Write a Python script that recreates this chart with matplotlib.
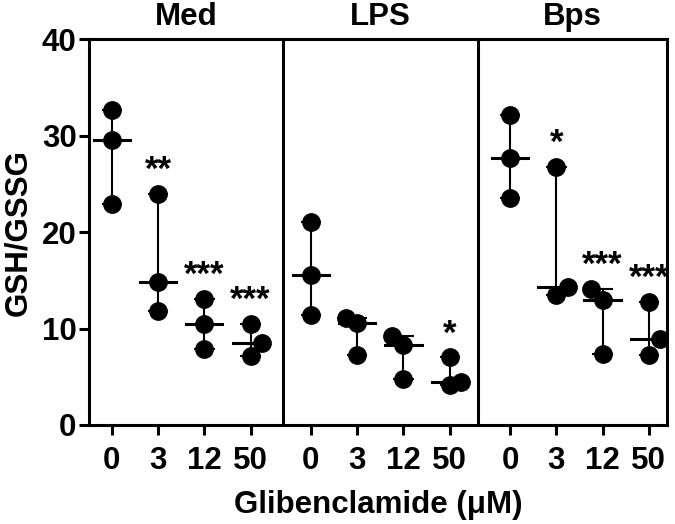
import numpy as np
import matplotlib.pyplot as plt

plt.rcParams['font.family'] = ['Liberation Sans', 'DejaVu Sans']
plt.rcParams['font.weight'] = 'bold'

panels = ['Med', 'LPS', 'Bps']
doses = ['0', '3', '12', '50']

# GSH/GSSG, three replicates per dose
med_vals = [[32.7, 29.6, 22.9], [24.0, 14.8, 11.8], [13.1, 10.5, 7.9], [10.5, 8.5, 7.2]]
lps_vals = [[21.0, 15.6, 11.4], [11.1, 10.6, 7.3], [9.2, 8.3, 4.8], [7.0, 4.5, 4.1]]
bps_vals = [[32.1, 27.7, 23.5], [26.8, 14.3, 13.5], [14.1, 13.0, 7.4], [12.8, 8.9, 7.3]]

# sideways nudge of overlapping dots (like prism does)
med_jit = [[0, 0, 0], [0, 0, 0], [0, 0, 0], [0, 0.25, 0]]
lps_jit = [[0, 0, 0], [-0.25, 0, 0], [-0.25, 0, 0], [0, 0.25, 0]]
bps_jit = [[0, 0, 0], [0, 0.25, 0], [-0.25, 0, 0], [0, 0.25, 0]]

med_stars = ['', '**', '***', '***']
lps_stars = ['', '', '', '*']
bps_stars = ['', '*', '***', '***']

all_vals = [med_vals, lps_vals, bps_vals]
all_jit = [med_jit, lps_jit, bps_jit]
all_stars = [med_stars, lps_stars, bps_stars]

fig = plt.figure(figsize=(6.75, 5.24), dpi=100)
ax = fig.add_axes([0.132, 0.189, 0.856, 0.736])

gap = 4.3
xticks = []
xlabels = []
for p in range(3):
    for d in range(4):
        x = p * gap + d
        xticks.append(x)
        xlabels.append(doses[d])
        vals = np.array(all_vals[p][d])
        jit = np.array(all_jit[p][d])
        lo, hi = vals.min(), vals.max()
        # range whisker + caps
        ax.plot([x, x], [lo, hi], color='black', lw=1.5, zorder=2)
        ax.plot([x - 0.2, x + 0.2], [lo, lo], color='black', lw=1.5, zorder=2)
        ax.plot([x - 0.2, x + 0.2], [hi, hi], color='black', lw=1.5, zorder=2)
        # median
        m = np.median(vals)
        ax.plot([x - 0.39, x + 0.39], [m, m], color='black', lw=2.2, zorder=2)
        ax.plot(x + jit, vals, 'o', color='black', ms=12.5, zorder=3)
        if all_stars[p][d]:
            ax.text(x, hi + 0.7, all_stars[p][d], ha='center', va='bottom',
                    fontsize=25, fontweight='bold')

# panel dividers
for xs in [3.7, 7.9]:
    ax.axvline(xs, color='black', lw=2.2)

ax.set_xlim(-0.49, 11.99)
ax.set_ylim(0, 40)
ax.set_yticks([0, 10, 20, 30, 40])
ax.set_xticks(xticks)
ax.set_xticklabels(xlabels)

for s in ax.spines.values():
    s.set_linewidth(2.2)
ax.tick_params(axis='both', direction='out', length=7, width=2.2, labelsize=22.5)
ax.tick_params(axis='x', pad=8)
ax.tick_params(axis='y', pad=2)

ax.set_ylabel('GSH/GSSG', fontsize=22.5, fontweight='bold', labelpad=6)
ax.set_xlabel('Glibenclamide (\u03bcM)', fontsize=22.5, fontweight='bold', labelpad=10)

centers = [(-0.49 + 3.7) / 2, (3.7 + 7.9) / 2, (7.9 + 11.99) / 2]
for c, name in zip(centers, panels):
    ax.text(c, 40.8, name, ha='center', va='bottom', fontsize=22.5, fontweight='bold')

fig.savefig('out.png', dpi=100)
